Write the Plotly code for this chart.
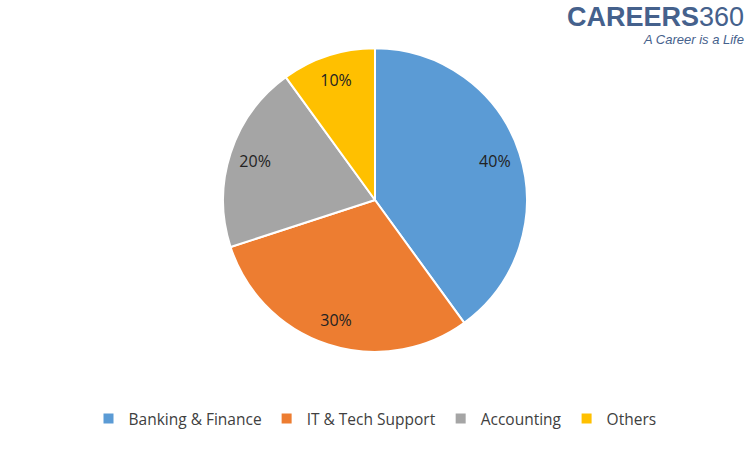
import plotly.graph_objects as go

labels = ["Banking & Finance", "IT & Tech Support", "Accounting", "Others"]
values = [40, 30, 20, 10]
colors = ["#5B9BD5", "#ED7D31", "#A5A5A5", "#FFC000"]

dom = dict(x=[0, 1], y=[0.218, 0.893])

fig = go.Figure()
# full pie (colors + legend)
fig.add_trace(go.Pie(
    labels=labels, values=values, sort=False, direction="clockwise", rotation=0,
    marker=dict(colors=colors, line=dict(color="white", width=2)),
    textinfo="none", domain=dom, hoverinfo="label+percent",
))
# transparent ring used to place the percent labels further out
fig.add_trace(go.Pie(
    labels=labels, values=values, sort=False, direction="clockwise", rotation=0,
    hole=0.66, showlegend=False,
    marker=dict(colors=["rgba(0,0,0,0)"] * 4, line=dict(width=0)),
    textinfo="percent", textposition="inside", insidetextorientation="horizontal",
    textfont=dict(family="Open Sans", size=16, color="#222222"),
    domain=dom, hoverinfo="skip",
))

fig.update_layout(
    width=750, height=450, margin=dict(l=0, r=0, t=0, b=0),
    paper_bgcolor="white", plot_bgcolor="white",
    legend=dict(orientation="h", x=0.5, xanchor="center", y=0.069, yanchor="middle",
                font=dict(family="Open Sans", size=15.5, color="#404040"),
                itemwidth=30, traceorder="normal"),
)
fig.add_annotation(text="<b>CAREERS</b>360", x=0.995, y=1 - 17/450, xref="paper", yref="paper",
                   xanchor="right", yanchor="middle", showarrow=False,
                   font=dict(family="Liberation Sans", size=27, color="#45618C"))
fig.add_annotation(text="<i>A Career is a Life</i>", x=0.995, y=1 - 39/450, xref="paper", yref="paper",
                   xanchor="right", yanchor="middle", showarrow=False,
                   font=dict(family="Liberation Sans", size=13, color="#45618C"))

fig.write_html("out.html", config={"displayModeBar": False},
               post_script="document.body.style.margin='0';document.body.style.overflow='hidden';")
